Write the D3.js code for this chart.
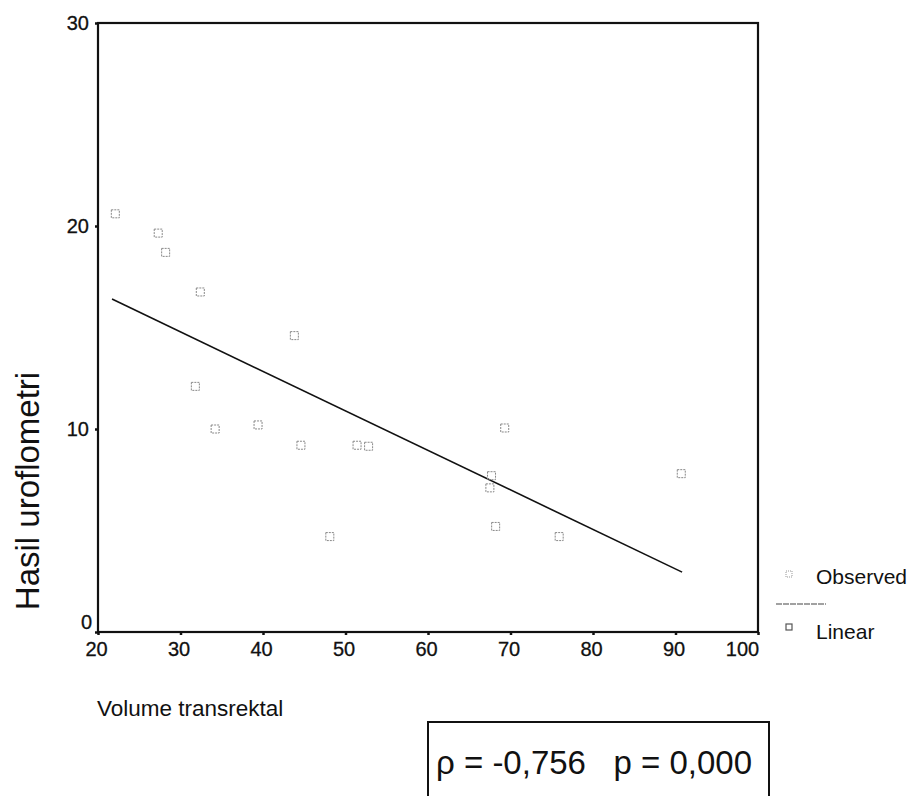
<!DOCTYPE html>
<html>
<head>
<meta charset="utf-8">
<script src="https://cdn.jsdelivr.net/npm/d3@7"></script>
<style>
  html, body { margin: 0; padding: 0; background: #fff; }
  svg { display: block; font-family: Arial, "Liberation Sans", Helvetica, sans-serif; }
</style>
</head>
<body>
<div id="chart"></div>
<script>
// Observed points (Volume transrektal vs Hasil uroflometri)
const obsX = [22.1, 27.3, 28.2, 32.4, 31.8, 34.2, 39.4, 43.8, 44.6, 51.4, 52.8, 48.1, 69.3, 67.7, 67.5, 68.2, 75.9, 90.7];
const obsY = [20.6, 19.65, 18.7, 16.75, 12.1, 10.0, 10.2, 14.6, 9.2, 9.2, 9.15, 4.7, 10.05, 7.7, 7.1, 5.2, 4.7, 7.8];

// Linear fit, drawn between the first and last fitted x
const lineX = [21.7, 90.8];
const lineY = [16.4, 2.95];

const xTicks = [20, 30, 40, 50, 60, 70, 80, 90, 100];
const yTicks = [0, 10, 20, 30];

const legendItems = ['Observed', 'Linear'];
const statText = 'ρ = -0,756   p = 0,000';

const width = 913, height = 796;
const plot = { left: 98, right: 758, top: 23, bottom: 632 };

const svg = d3.select('#chart').append('svg')
  .attr('width', width)
  .attr('height', height);

const x = d3.scaleLinear().domain([20, 100]).range([plot.left, plot.right]);
const y = d3.scaleLinear().domain([0, 30]).range([plot.bottom, plot.top]);

// Frame
svg.append('rect')
  .attr('x', plot.left)
  .attr('y', plot.top)
  .attr('width', plot.right - plot.left)
  .attr('height', plot.bottom - plot.top)
  .attr('fill', 'none')
  .attr('stroke', '#111')
  .attr('stroke-width', 2.2);

// X axis
const xAxis = svg.append('g')
  .attr('transform', `translate(0,${plot.bottom})`)
  .call(d3.axisBottom(x).tickValues(xTicks).tickSize(3).tickPadding(7).tickFormat(d3.format('d')));
xAxis.select('.domain').remove();
xAxis.selectAll('line').attr('stroke', '#111').attr('stroke-width', 2.5);
xAxis.selectAll('text')
  .attr('font-size', 20)
  .attr('fill', '#111')
  .attr('stroke', '#111')
  .attr('stroke-width', 0.3)
  .attr('font-family', 'Arial, "Liberation Sans", sans-serif')
  .attr('dx', d => d === 100 ? -16 : -2);

// Y axis
const yAxis = svg.append('g')
  .attr('transform', `translate(${plot.left},0)`)
  .call(d3.axisLeft(y).tickValues(yTicks).tickSize(3).tickPadding(6).tickFormat(d3.format('d')));
yAxis.select('.domain').remove();
yAxis.selectAll('line').attr('stroke', '#111').attr('stroke-width', 2.5);
yAxis.selectAll('text')
  .attr('font-size', 20)
  .attr('fill', '#111')
  .attr('stroke', '#111')
  .attr('stroke-width', 0.3)
  .attr('font-family', 'Arial, "Liberation Sans", sans-serif')
  .attr('dx', d => d === 0 ? 3 : 0)
  .attr('dy', d => d === 0 ? '-0.2em' : '0.32em');

// Fit line
svg.append('path')
  .datum(d3.zip(lineX, lineY))
  .attr('d', d3.line().x(d => x(d[0])).y(d => y(d[1])))
  .attr('fill', 'none')
  .attr('stroke', '#111')
  .attr('stroke-width', 1.6);

// Observed markers
const s = 8;
svg.append('g').selectAll('rect')
  .data(d3.zip(obsX, obsY))
  .join('rect')
  .attr('x', d => x(d[0]) - s / 2)
  .attr('y', d => y(d[1]) - s / 2)
  .attr('width', s)
  .attr('height', s)
  .attr('fill', 'none')
  .attr('stroke', '#888')
  .attr('stroke-width', 1)
  .attr('stroke-dasharray', '2,1');

// Axis titles
svg.append('text')
  .attr('transform', 'translate(39,491) rotate(-90)')
  .attr('text-anchor', 'middle')
  .attr('font-size', 33)
  .attr('fill', '#111')
  .text('Hasil uroflometri');

svg.append('text')
  .attr('x', 97)
  .attr('y', 716)
  .attr('font-size', 22.5)
  .attr('fill', '#111')
  .text('Volume transrektal');

// Legend
const legend = svg.append('g');
legend.append('rect')
  .attr('x', 786).attr('y', 571).attr('width', 6).attr('height', 6)
  .attr('fill', 'none').attr('stroke', '#999').attr('stroke-width', 1).attr('stroke-dasharray', '1,1');
legend.append('line')
  .attr('x1', 776).attr('x2', 826).attr('y1', 604).attr('y2', 604)
  .attr('stroke', '#444').attr('stroke-width', 1.2).attr('stroke-dasharray', '6,1');
legend.append('rect')
  .attr('x', 786).attr('y', 624).attr('width', 6).attr('height', 6)
  .attr('fill', 'none').attr('stroke', '#555').attr('stroke-width', 1.2);
legend.selectAll('text.lg')
  .data(legendItems)
  .join('text')
  .attr('class', 'lg')
  .attr('x', 816)
  .attr('y', (d, i) => 584 + i * 55)
  .attr('font-size', 21)
  .attr('fill', '#111')
  .text(d => d);

// Statistic box (cut off at bottom edge)
svg.append('path')
  .attr('d', `M428,${height} L428,722 L769,722 L769,${height}`)
  .attr('fill', 'none')
  .attr('stroke', '#111')
  .attr('stroke-width', 2);

svg.append('text')
  .attr('x', 436)
  .attr('y', 774)
  .attr('font-size', 33)
  .attr('fill', '#111')
  .style('white-space', 'pre')
  .text(statText);
</script>
</body>
</html>
